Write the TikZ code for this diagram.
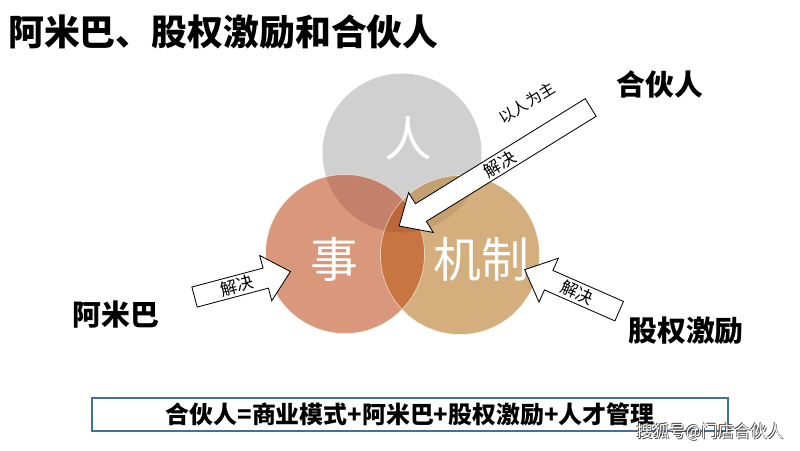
\documentclass[tikz,border=0pt]{standalone}
\usepackage{fontspec}
\usetikzlibrary{shapes.arrows}
\newfontfamily\hei{Noto Sans CJK SC}
\definecolor{renhui}{HTML}{D0D0D0}
\definecolor{shihong}{HTML}{D9977B}
\definecolor{jizhihuang}{HTML}{D4AE7C}
\definecolor{renshi}{HTML}{C3806A}
\definecolor{renjizhi}{HTML}{C4A070}
\definecolor{shijizhi}{HTML}{C87641}
\definecolor{sanhe}{HTML}{BD6637}
\definecolor{kuanglan}{HTML}{41719C}
\tikzset{
  biaoti/.style={font=\hei\bfseries\fontsize{25.5}{30}\selectfont, anchor=west, inner sep=0pt},
  quanzi/.style={font=\hei\fontsize{34}{40}\selectfont, text=white, inner sep=0pt},
  jiaose/.style={font=\hei\bfseries\fontsize{20.5}{24}\selectfont, inner sep=0pt},
  jiantou/.style={single arrow, draw=black, fill=white, line width=0.6pt, inner sep=0.5pt,
    single arrow head extend=0.28cm, single arrow tip angle=85, minimum width=1.17cm,
    font=\hei\fontsize{12}{14}\selectfont},
  gongshi/.style={draw=kuanglan, line width=1.4pt, minimum width=15.9cm, minimum height=0.83cm,
    font=\hei\bfseries\fontsize{17}{20}\selectfont, inner sep=0pt},
  shuiyin/.style={font=\hei\fontsize{11.7}{14}\selectfont, inner sep=0pt}
}
\begin{document}
\begin{tikzpicture}[x=0.025cm,y=0.025cm]
\useasboundingbox (0,0) rectangle (800,450);
\def\rr{79.5}
\coordinate (ren) at (402,297);
\coordinate (shi) at (345,196);
\coordinate (jizhi) at (460,195);

% three circles
\fill[renhui] (ren) circle[radius=\rr];
\fill[shihong] (shi) circle[radius=\rr];
\fill[jizhihuang] (jizhi) circle[radius=\rr];
\begin{scope}
  \clip (shi) circle[radius=\rr];
  \fill[renshi] (ren) circle[radius=\rr];
\end{scope}
\begin{scope}
  \clip (jizhi) circle[radius=\rr];
  \fill[renjizhi] (ren) circle[radius=\rr];
\end{scope}
\begin{scope}
  \clip (shi) circle[radius=\rr];
  \fill[shijizhi] (jizhi) circle[radius=\rr];
  \clip (jizhi) circle[radius=\rr];
  \fill[sanhe] (ren) circle[radius=\rr];
\end{scope}
\draw[white, opacity=0.6, line width=0.5pt] (shi) circle[radius=\rr] (jizhi) circle[radius=\rr];

\node[quanzi] (renzi) at (408,312) {人};
\node[quanzi] (shizi) at (334,191) {事};
\node[quanzi] (jizhizi) at (481,191) {机制};

\node[biaoti] (title) at (8,418) {阿米巴、股权激励和合伙人};

\node[jiaose] (hhr) at (660,365) {合伙人};
\node[jiaose] (amb) at (116,135) {阿米巴};
\node[jiaose] (gqjl) at (686,119) {股权激励};

% arrows
\node[jiantou, minimum height=5.63cm, rotate=31.75, shape border rotate=180] (jt1) at (499.75,286.25) {解决};
\node[font=\hei\fontsize{11}{13}\selectfont, rotate=31.75, inner sep=0pt] (yrwz) at (527,347) {以人为主};
\node[jiantou, minimum height=2.48cm, rotate=14.9] (jt2) at (237,164.25) {解决};
\node[jiantou, minimum height=2.58cm, minimum width=1.2cm, rotate=-23.7, shape border rotate=180] (jt3) at (577.25,157.25) {解决};

\node[gongshi] (gs) at (410,35.5) {合伙人=商业模式+阿米巴+股权激励+人才管理};

\foreach \dx/\dy/\n in {0.8/-0.8/a, -0.8/0.8/b}
  \node[shuiyin, text=black!75] (sy\n) at (710+\dx,18+\dy) {搜狐号@门店合伙人};
\node[shuiyin, text=white] (sy) at (710,18) {搜狐号@门店合伙人};
\end{tikzpicture}
\end{document}
